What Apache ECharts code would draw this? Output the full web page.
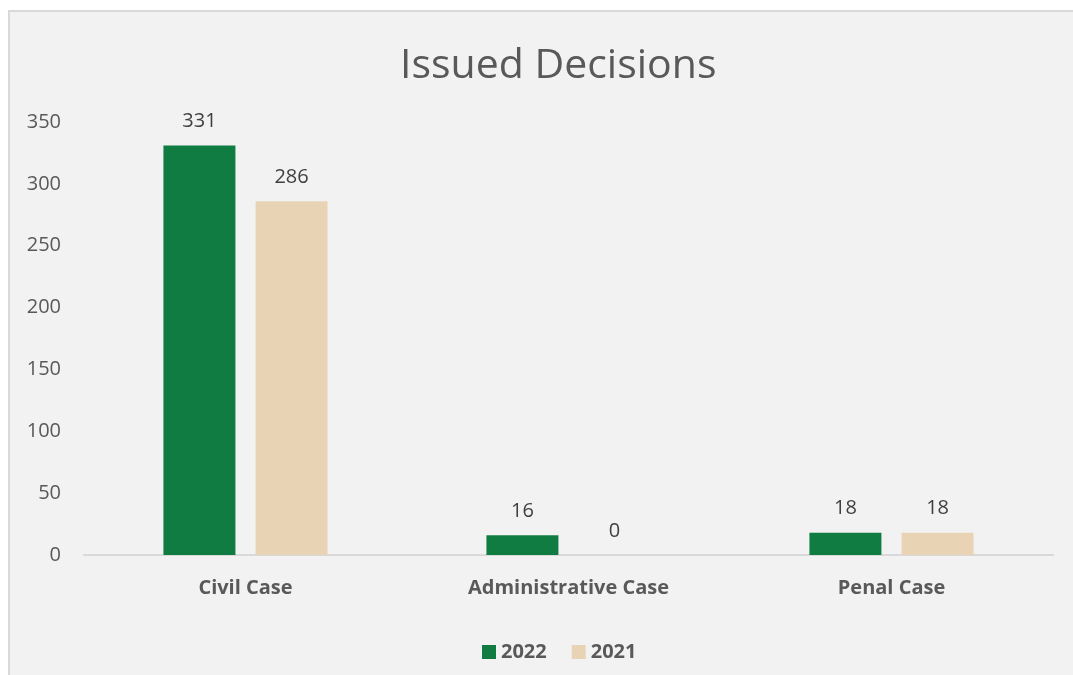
<!DOCTYPE html>
<html>
<head>
<meta charset="utf-8">
<script src="https://cdn.jsdelivr.net/npm/echarts@6/dist/echarts.min.js"></script>
<style>
  html, body { margin: 0; padding: 0; background: #ffffff; }
  .panel {
    position: absolute; left: 8px; top: 10px; width: 1070px; height: 670px;
    background: #f2f2f2; border-left: 2px solid #d9d9d9; border-top: 2px solid #d9d9d9;
  }
  #chart { position: absolute; left: 0; top: 0; width: 1073px; height: 675px; }
</style>
</head>
<body>
<div class="panel"></div>
<div id="chart"></div>
<script>
const categories = ["Civil Case", "Administrative Case", "Penal Case"];
const data2022 = [331, 16, 18];
const data2021 = [286, 0, 18];
const yTicks = [0, 50, 100, 150, 200, 250, 300, 350];

const chart = echarts.init(document.getElementById("chart"));
const labelStyle = {
  show: true,
  position: "top",
  distance: 14,
  fontSize: 20,
  color: "#404040",
  fontFamily: "Open Sans",
};
chart.setOption({
  backgroundColor: "transparent",
  title: {
    text: "Issued Decisions",
    left: 395,
    top: 41,
    textStyle: { fontSize: 41, fontWeight: "normal", color: "#595959", fontFamily: "Open Sans" },
  },
  legend: {
    top: 637,
    left: 477,
    itemWidth: 14,
    itemHeight: 14,
    itemGap: 25,
    icon: "rect",
    textStyle: { fontSize: 20, fontWeight: "bold", color: "#595959", fontFamily: "Open Sans" },
    data: ["2022", "2021"],
  },
  grid: { left: 84, right: 20, top: 122, bottom: 120 },
  xAxis: {
    type: "category",
    data: categories,
    axisLine: { lineStyle: { color: "#d9d9d9", width: 2 } },
    axisTick: { show: false },
    axisLabel: { margin: 23, fontSize: 20, fontWeight: "bold", color: "#595959", fontFamily: "Open Sans" },
  },
  yAxis: {
    type: "value",
    min: yTicks[0],
    max: yTicks[yTicks.length - 1],
    interval: 50,
    splitLine: { show: false },
    axisLine: { show: false },
    axisTick: { show: false },
    axisLabel: { margin: 23, fontSize: 20, color: "#595959", fontFamily: "Open Sans" },
  },
  series: [
    {
      name: "2022",
      type: "bar",
      data: data2022,
      barWidth: 72,
      barGap: "28%",
      itemStyle: { color: "#107c41" },
      label: labelStyle,
    },
    {
      name: "2021",
      type: "bar",
      data: data2021,
      barWidth: 72,
      itemStyle: { color: "#e8d4b4" },
      label: labelStyle,
    },
  ],
});
</script>
</body>
</html>
